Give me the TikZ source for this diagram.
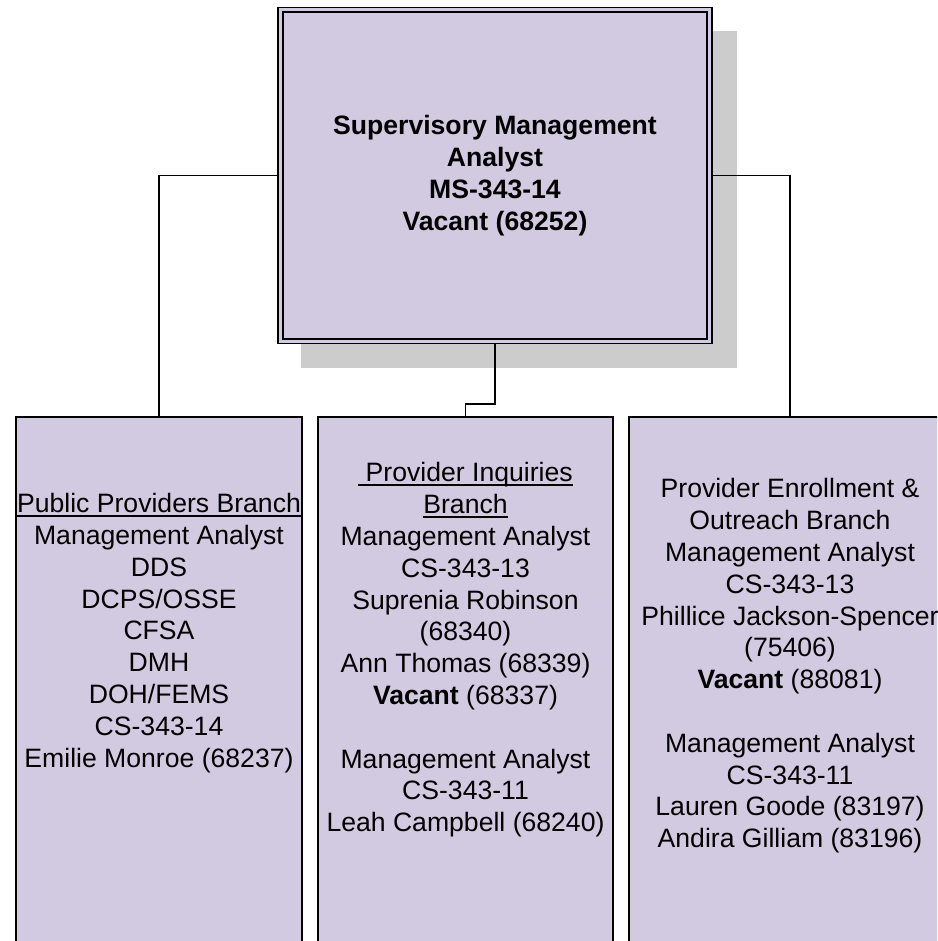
\documentclass[tikz,border=0pt]{standalone}
\usepackage{fontspec}
\setmainfont{Liberation Sans}
\usetikzlibrary{backgrounds}

\definecolor{lav}{RGB}{210,202,224}
\definecolor{shadowgray}{RGB}{204,204,204}
\newcommand{\brunder}[1]{\setbox0\hbox{#1}\rlap{\rule[-4.3pt]{\wd0}{2pt}}\box0}

\tikzset{
  head/.style={draw, double=lav, double distance=3pt, line width=1.8pt, fill=lav,
    minimum width=429, minimum height=331, inner sep=0pt, outer sep=3.3pt,
    align=center, font=\fontsize{26.6}{31.8}\selectfont\bfseries},
  post/.style={draw, fill=lav, line width=2pt, minimum width=#1, minimum height=563, inner sep=0pt},
  txt/.style={align=center, inner sep=0pt, font=\fontsize{26.6}{31.8}\selectfont},
  wire/.style={line width=1.8pt}
}

\begin{document}
\begin{tikzpicture}[x=1pt,y=-1pt]
\useasboundingbox (0,0) rectangle (937,941);
\clip (0,0) rectangle (937,941);

% top post
\node[head] (sup) at (495,175.5) {Supervisory Management\\Analyst\\MS-343-14\\Vacant (68252)};
\begin{scope}[on background layer]
\fill[shadowgray] ([shift={(24,24)}]sup.north west) rectangle ([shift={(24,24)}]sup.south east);
\end{scope}

% branches
\node[post=286] (pub) at (159,698.5) {};
\node[post=295] (inq) at (465.5,698.5) {};
\node[post=322] (enr) at (790,698.5) {};

\node[txt] (pubtxt) at (159,633) {\brunder{Public Providers Branch}\\Management Analyst\\DDS\\DCPS/OSSE\\CFSA\\DMH\\DOH/FEMS\\CS-343-14\\Emilie Monroe (68237)};
\node[txt] (inqtxt) at (465.5,650) {\brunder{\ Provider Inquiries}\\\brunder{Branch}\\Management Analyst\\CS-343-13\\Suprenia Robinson\\(68340)\\Ann Thomas (68339)\\\textbf{Vacant} (68337)\\[31.8pt]Management Analyst\\CS-343-11\\Leah Campbell (68240)};
\node[txt] (enrtxt) at (790,666) {Provider Enrollment \&\\Outreach Branch\\Management Analyst\\CS-343-13\\Phillice Jackson-Spencer\\(75406)\\\textbf{Vacant} (88081)\\[31.8pt]Management Analyst\\CS-343-11\\Lauren Goode (83197)\\Andira Gilliam (83196)};

% connectors
\coordinate (elbow) at (465.5,404);
\draw[wire] (sup.west) -| (pub.north);
\draw[wire] (sup.east) -| (enr.north);
\draw[wire] (sup.south) |- (elbow) -- (inq.north);
\end{tikzpicture}
\end{document}
